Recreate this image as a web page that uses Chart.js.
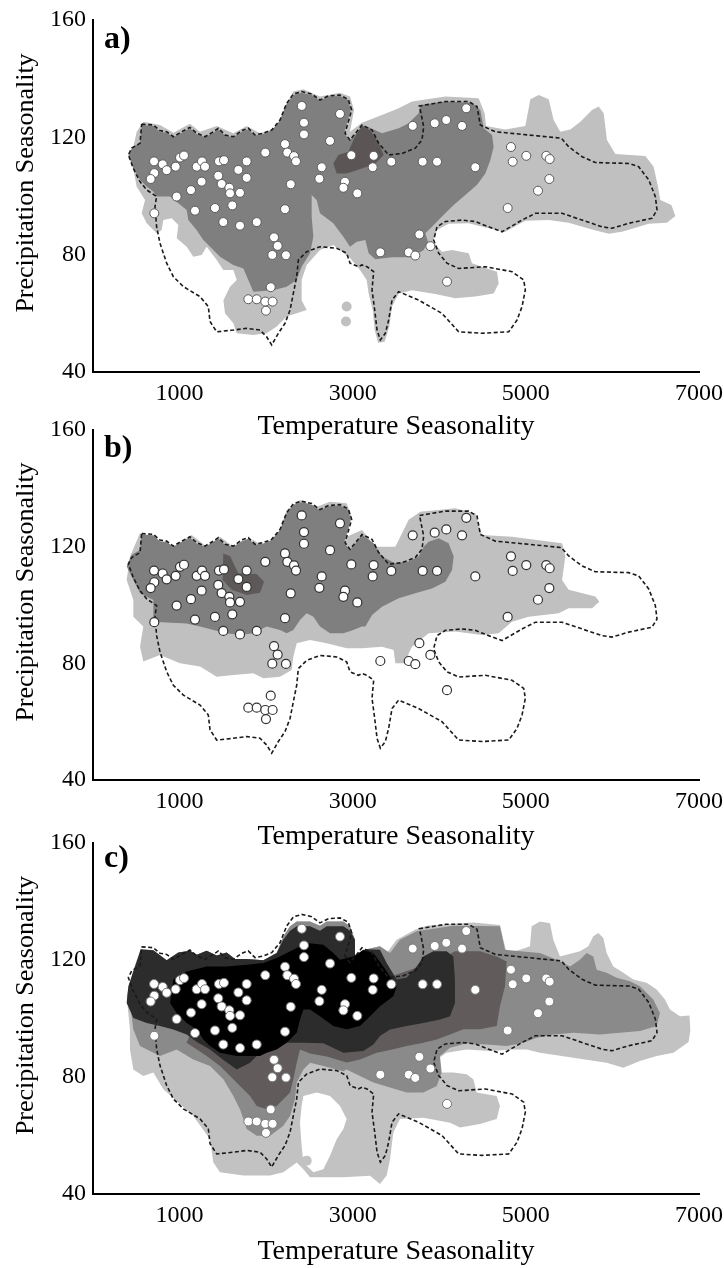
<!DOCTYPE html>
<html><head><meta charset="utf-8">
<script src="https://cdn.jsdelivr.net/npm/chart.js@4.4.1/dist/chart.umd.min.js"></script>
<style>
html,body{margin:0;padding:0;background:#fff;width:724px;height:1268px;overflow:hidden;}
.panel{position:absolute;left:0;width:724px;}
</style></head><body>
<div class="panel" style="top:0px;height:443px"><canvas id="ca"></canvas></div>
<div class="panel" style="top:410px;height:443px"><canvas id="cb"></canvas></div>
<div class="panel" style="top:822px;height:446px"><canvas id="cc"></canvas></div>
<script>
// ---- axis ticks / labels ----
const xTickValues = [1000, 3000, 5000, 7000];
const xTickLabels = ['1000', '3000', '5000', '7000'];
const yTickValues = [40, 80, 120, 160];
const yTickLabels = ['40', '80', '120', '160'];
const xTitle = 'Temperature Seasonality';
const yTitle = 'Precipitation Seasonality';
const panelLabels = ['a)', 'b)', 'c)'];

// ---- occurrence points (same in all panels) ----
const pointX = [2411,2437,2437,2853,2218,2738,705,805,851,955,1005,1051,708,666,708,966,1132,1198,1259,1294,1255,1455,1513,1447,1486,1575,1583,1698,1775,1679,1775,1609,1409,1178,1505,1698,1891,1990,2245,2322,2345,2284,2218,2642,2615,2091,2133,2071,2229,2053,1794,1891,1990,2075,1998,2984,2911,2892,3053,4312,3693,3947,4081,4263,3242,3231,3446,3808,3974,4416,4828,4848,5005,5236,5275,5271,5140,4790,3770,3897,3319,3647,3723,4089];
const pointY = [130.7,125,121,128,117.7,118.8,111.8,110.8,108.8,110,113.1,113.8,107.8,105.8,94.1,99.8,102,110,111.8,110,104.9,111.8,112.2,106.9,104.1,102.8,100.9,101.1,111.8,108.9,106.2,96.8,95.9,95,91.1,89.9,91.1,114.8,114.8,113.6,111.8,104,95.5,109.8,105.9,85.9,83,79.9,79.8,68.9,64.8,64.8,64,64,60.9,113.9,104.9,102.8,100.9,129.9,123.9,124.8,125.9,123.9,113.7,109.8,111.7,111.7,111.7,109.8,116.7,111.7,113.7,113.7,112.6,105.8,101.8,95.9,86.9,82.9,80.8,80.8,79.7,70.8];

// ---- dashed outline (same in all panels) ----
const outlineX = [562,697,774,851,928,1024,1120,1197,1294,1390,1448,1525,1621,1717,1794,1871,1968,2064,2160,2237,2314,2410,2526,2622,2718,2853,2949,2988,2949,2911,2968,3046,3107,3223,3300,3415,3569,3723,3800,3820,3781,3770,4070,4340,4436,4474,4648,5033,5410,5495,5649,5803,6188,6303,6419,6496,6515,6457,6188,5995,5880,5649,5418,5110,4956,4725,4570,4416,4262,4070,3974,3935,3993,4089,4224,4532,4840,4975,4994,4956,4898,4802,4493,4224,4031,3762,3531,3454,3415,3377,3319,3281,3254,3223,3242,3165,3107,3065,2969,2930,2815,2622,2468,2372,2353,2314,2276,2218,2141,2064,2006,1929,1775,1621,1429,1352,1332,1236,1044,928,851,774,735,716,735,620,543,466,408,447,543,562];
const outlineY = [124.5,124.2,122.3,121.9,120.2,121.9,123.4,121.4,120.2,121.9,123.1,120.8,120.2,122.3,123.1,120.8,121.4,122.5,125.9,131.6,134.7,135.6,134.8,132.7,134.1,134.4,132.9,129.3,125.3,121.4,119.1,121.9,124.2,122.5,118,114,114.5,116.3,119.1,123.6,129.3,130.7,132.2,132.2,130.5,124.2,121.9,120.8,119.7,116.8,113.4,111.4,111.1,110,105.5,99.8,95.2,92.4,90.7,89,89.5,91.8,94.1,94.1,91.8,87.8,89.5,91.3,91.8,91.3,89.5,85,80.5,77.1,75.3,75.9,74.2,71.4,68,62.3,57.7,53.7,53.2,53.7,60,64.5,67.4,64.5,57.7,53.2,50.9,54.3,61.1,68,74.2,75.9,76.5,75.9,77.1,80.5,82.2,82.7,81,78.2,72.5,66.8,61.1,56.6,53.2,49.2,52,54.3,54.9,54.3,53.7,57.2,62.3,65.7,69.1,72.5,77.1,83.9,89.5,96.4,99.8,102.1,104.9,109.4,114,116.3,118,124.5];

// ---- panel a regions ----
const lightAX = [466,505,582,774,928,1120,1236,1429,1621,1775,1929,2122,2218,2314,2430,2622,2853,2969,3015,2969,3107,3338,3531,3685,4070,4455,4524,4540,4763,4994,5052,5148,5264,5321,5398,5514,5629,5764,5841,5899,5937,6034,6380,6476,6526,6553,6681,6727,6630,6419,6111,5957,5764,5495,5264,4994,4763,4532,4340,4108,3974,3924,4031,4147,4340,4378,4493,4667,4686,4628,4416,4185,3954,3685,3531,3454,3423,3369,3292,3254,3231,3184,3161,3084,2969,2776,2622,2468,2410,2410,2468,2353,2237,2122,2006,1852,1660,1621,1525,1506,1583,1660,1621,1506,1429,1313,1255,1159,1082,967,986,909,812,793,735,620,562,601,504,447];
const lightAY = [116.8,121.9,125.3,124.2,121.6,124.6,121.9,123.9,121.4,123.9,121.4,123.1,130.5,135.6,136.4,133.9,135.2,133.9,129.3,121.9,125,127.6,129.9,132.2,133.9,133.3,128.2,123.9,122.7,123.9,133,134.4,133,125.9,121.9,122.7,125.3,129.3,130.5,128.2,119.1,114.3,113.6,110,103.2,98.6,96.9,93.2,90.9,90.5,87.8,87.1,88.6,90.9,91.8,91.6,87.8,89.3,90.7,90.5,88.4,84.4,81,81.6,80.5,77.1,75.9,74.2,70.2,66.8,65.7,65.1,66.6,67.9,66.8,62.3,55.5,50.3,50,54.3,61.1,66.8,71.4,74.8,78.9,83.3,81.6,76.5,71.4,64.5,61.1,60,58.9,55.5,53.2,52.6,53.2,56.6,60,64.5,69.1,71.4,74.8,74.8,78.2,82.7,79.9,79.3,82.7,85.6,90.1,92.4,91.8,88.4,87.3,90.7,94.1,98.6,103.2,112.3];
const midTopX = [562,697,774,851,928,1024,1120,1197,1294,1390,1448,1525,1621,1717,1794,1871,1968,2064,2160,2237,2314,2410,2526,2622,2718,2853,2949,2977,2938,2899,2968,3046,3107];
const midTopY = [124.2,123.9,121.9,121.6,120,121.6,123.1,121.1,120,121.6,122.7,120.6,120,121.9,122.7,120.6,121.1,122.3,125.7,131.4,134.3,135.2,134.4,132.5,133.9,134.1,132.7,129.3,125.3,121.4,118.9,121.6,124.1];
const midRestAX = [3184,3338,3531,3646,3762,3781,4070,4378,4474,4513,4609,4628,4590,4532,4436,4301,4166,4031,3916,3839,3870,3820,3685,3454,3261,3184,3146,3046,2969,2892,2776,2622,2584,2526,2526,2545,2507,2410,2353,2237,2083,1852,1794,1737,1621,1467,1390,1274,1197,1101,1082,890,735,697,620,543,466,408,458,543];
const midRestAY = [123.4,121.4,123.1,124.8,128.2,131,132.2,131.8,129.3,123.1,120.8,116.8,112.3,107.7,103.8,100.3,96.9,93,89.5,87.3,84.4,81.6,79.1,79.1,78.4,80.5,85,84.4,82.7,86.1,90.7,94.1,98.6,100.3,93,86.1,80.5,75.9,71.4,69.1,67.9,67.4,71.4,75.3,76.5,79.3,81.6,85,88.4,91.8,95.2,99.8,99.8,101.5,103.2,105.5,109.4,114,116.8,118];
const darkAX = [2776,2834,2949,3026,3107,3204,3300,3358,3261,3107,2930,2815];
const darkAY = [111.1,114,115.1,120.2,123.9,122.3,118,114,111.1,109.4,107.7,107.7];
const dotsAX = [2930,2922];
const dotsAY = [62.3,57.2];

// ---- panel b regions ----
const lightBX = [543,736,928,1140,1313,1467,1621,1852,2006,2122,2237,2391,2584,2738,2930,2988,2930,3107,3261,3492,3531,3646,3781,4185,4416,4493,4840,5418,5456,5418,5494,5803,5849,5764,5494,5379,5033,4840,4686,4493,4185,3877,3685,3646,3627,3492,3473,3338,3107,2930,2699,2507,2353,2314,2295,2160,1968,1852,1621,1429,1236,1005,774,581,543,581,466,466,389,427];
const lightBY = [124.6,122.3,120,124,120,123.4,120,122.3,119.4,122.3,132.6,136,133.7,135.4,134.9,130.3,123.4,125.7,120,120,122.3,129.2,132,133.2,131.4,124,123.4,121.2,116.6,108.6,105.2,102.9,101.1,98.9,98.9,97.2,96,94.3,90.3,89.7,90.9,90.3,85.7,83.4,80,80,84.6,85.7,85.2,85.2,86.9,88,86.9,82.3,77.7,75.4,74.9,76.6,76,75.4,78.9,80,82.9,80.6,85.7,92.6,96,101.7,108.6,116.6];
const midRestBX = [3242,3338,3492,3646,3762,3820,3877,3993,4108,4166,4147,4070,3916,3723,3531,3338,3223,3146,3107,3007,2892,2738,2622,2546,2468,2391,2314,2237,2160,2006,1852,1698,1544,1390,1236,1082,851,697,697,543,466,389,447,543];
const midRestBY = [121.2,116.6,114.3,114.9,116.6,120,121.7,122.9,121.2,116.6,112,108,105.7,104,102.3,99.4,96.6,92.6,92.6,91.4,90.3,90.3,92.6,96,97.2,94.9,91.4,90.3,91.4,92.6,90.3,89.7,90.3,91.4,92.6,93.7,94,94.3,101.7,104,108.6,113.2,117.2,118.9];
const darkBX = [1505,1583,1679,1891,1975,1929,1775,1602,1498];
const darkBY = [117.7,116.8,110.9,110.6,108,104.2,103.4,105.2,108.6];

// ---- panel c regions ----
const lightCX = [551,697,851,986,1120,1198,1313,1429,1544,1640,1775,1968,2122,2199,2276,2353,2507,2622,2699,2892,2969,3026,3026,3161,3315,3392,3508,3719,3854,4162,4393,4701,4740,4778,4932,5048,5067,5163,5279,5317,5394,5548,5625,5722,5779,5837,5895,5933,6010,6126,6241,6395,6511,6607,6665,6780,6890,6900,6880,6704,6511,6318,6126,5933,5548,5163,5009,4855,4586,4316,4085,3970,4008,4162,4316,4393,4432,4662,4701,4663,4470,4239,4124,3816,3546,3469,3431,3392,3315,3200,2892,2507,2430,2353,2199,2045,1737,1467,1390,1352,1159,813,697,581,466,427,427,389,466];
const lightCY = [123.7,123.3,119.9,122.6,123.2,121.8,123.2,121.5,122.6,120.3,120.3,119.9,122.4,128.1,131.5,133.2,133.2,131.7,133.2,133.2,131.5,126.9,121.2,123.7,124.7,122.4,126.9,130.3,131.7,132.4,132.8,132,126.9,122.4,123.5,124.7,131.5,133.2,132.6,126.9,121.2,122.4,123,124.7,128.1,129.2,127.5,122.4,117.8,115.6,113.3,112.2,109.9,106.5,103.1,100.8,101,96,92,88.3,87.2,85.5,83.2,84.9,86.6,88.3,89.4,89.4,88.9,89.4,88.3,86,81.5,81.5,80.9,79.2,74.7,73.5,70.1,65.6,63.9,62.7,64.4,66.1,65.6,61,51.9,46.3,43.4,46.2,45.7,45.7,48.5,50.8,47.4,46.3,46.3,47.4,50.8,58.7,66.7,75.8,81.5,80.3,82.6,89.4,96.2,107.6,116.7];
const holeCX = [2430,2584,2738,2853,2930,2892,2815,2738,2661,2545,2430,2410,2391,2410];
const holeCY = [73.5,74.7,73.5,70.1,65.6,62.2,58.7,53.1,48.5,47.4,50.8,56.5,64.4,70.1];
const midCX = [427,543,697,851,986,1120,1198,1313,1429,1544,1640,1775,1968,2122,2199,2276,2353,2507,2622,2699,2892,2969,3026,3026,3161,3315,3431,3546,3739,4162,4701,4759,4932,5163,5356,5510,5625,5702,5779,5818,5933,6049,6203,6318,6472,6549,6511,6318,6087,5856,5548,5317,5125,4971,4778,4547,4316,4124,4008,4027,3970,3816,3623,3431,3238,3084,2930,2892,2661,2507,2430,2353,2333,2276,2199,2045,1891,1775,1737,1698,1621,1506,1352,1159,967,774,543,466];
const midCY = [105.3,122.4,123.3,119.9,122.6,123.2,121.8,123.2,121.5,122.6,120.3,120.3,119.9,122.4,128.1,131.5,133.2,133.2,131.7,133.2,133.2,131.5,126.9,121.2,123.7,124.7,122.4,126.9,129.8,131.7,131.5,123.5,123,122.4,120.1,117.8,120.1,122.4,121.2,116.7,115.6,113.9,112.7,111,106.5,101.9,97.4,95.7,95.1,94.5,95.1,94.5,93.4,91.7,90.6,91.1,91.5,90,87.2,81.5,76.9,74.7,74.7,76.4,78.1,80.3,82.6,82,83.8,84.9,82.6,78.1,72.4,66.7,63.3,59.9,59.9,62.2,65.6,69,73.5,79.2,83.8,86,89.4,87.2,90.6,96.2];
const brownCX = [4181,4470,4663,4778,4759,4701,4663,4470,4278,4124,3970,3816,3623,3431,3277,3084,2930,2700,2507,2391,2353,2314,2276,2199,2122,2006,1891,1814,1698,1583,1467,1313,1082,1200,2000,3000,3500,4000];
const brownCY = [123,123,121.2,119.5,111,104.2,97.4,96.3,96.3,94.5,92.8,91.7,90.6,89.2,88.3,86,85,87,88,89.4,84.9,79.2,74.7,72.4,70.1,69,70.1,73.5,76.9,80.3,83.8,87.2,91.7,100,105,110,115,120];
const darkCX = [551,697,851,986,1120,1198,1313,1429,1544,1640,1775,1968,2122,2199,2276,2353,2507,2622,2699,2892,2969,3026,3026,3161,3315,3392,3508,3623,3739,3816,3931,4085,4162,4181,4181,4124,4008,3816,3623,3431,3315,3238,3123,2892,2661,2430,2199,2006,1814,1660,1500,1352,1200,1082,928,774,620,466,389,408,485];
const darkCY = [123.7,123.3,119.9,122.6,123.2,121.8,123.2,121.5,122.6,120.3,120.3,119.9,122.4,127,130,131.5,131.5,130,131.5,131.5,130,126.9,121.2,123.7,123.5,119,113.3,113.9,117.8,121.2,123,123,121.2,113.3,105.3,100.8,99.7,98.5,97.4,96.2,94,91.1,88.9,88.3,91.5,91.7,91.7,90.6,84.9,82.6,86,89.4,92,94.5,96.2,97.4,98.5,100.2,105.3,111,117.8];
const blackCX = [928,1082,1313,1544,1775,1968,2122,2314,2468,2661,2776,2853,3007,3123,3238,3354,3431,3508,3469,3315,3200,3084,2930,2776,2622,2507,2430,2391,2353,2237,2122,2006,1929,1814,1660,1467,1352,1275,1198,1082,967,890];
const blackCY = [113.3,116.1,117.8,117.8,118.4,119,120.7,123.5,125.8,125.2,122.4,120.1,121.2,123.5,122.4,117.8,114.4,111,107.6,104.2,100.8,97.4,96.3,97.4,100.8,103.1,103.1,99.7,95.1,91.7,89.4,88.3,87.2,87.2,87.2,88.3,90.6,92.8,96.2,98.5,101.9,105.3];
const dotsCX = [2468];
const dotsCY = [51.4];

// ---- helpers ----
const zip = (xs, ys) => xs.map((x, i) => ({x: x, y: ys[i]}));
const FONT = '"Liberation Serif", "Times New Roman", serif';

function polygon(xs, ys, color) {
  return {data: zip(xs, ys), showLine: true, fill: 'shape', backgroundColor: color,
          borderColor: color, borderWidth: 0, pointRadius: 0, pointHoverRadius: 0, tension: 0};
}
function dots(xs, ys, color) {
  return {data: zip(xs, ys), showLine: false, pointRadius: 5, pointBackgroundColor: color,
          pointBorderWidth: 0, pointBorderColor: color, pointHoverRadius: 0};
}
function pointsDs(border, bw) {
  return {data: zip(pointX, pointY), showLine: false, pointRadius: 4.5, pointBackgroundColor: '#ffffff',
          pointBorderColor: border, pointBorderWidth: bw, pointHoverRadius: 0};
}
function outlineDs() {
  return {data: zip(outlineX, outlineY), showLine: true, fill: false, borderColor: '#1a1a1a',
          borderWidth: 1.6, borderDash: [4, 2.5], pointRadius: 0, pointHoverRadius: 0, tension: 0};
}

const textPlugin = {
  id: 'panelText',
  afterDraw(chart, args, o) {
    const ctx = chart.ctx;
    const ca = chart.chartArea;
    ctx.save();
    ctx.fillStyle = '#000';
    ctx.textBaseline = 'middle';
    ctx.textAlign = 'left';
    ctx.font = 'bold 32px ' + FONT;
    ctx.fillText(o.label, 104, ca.top + o.labelDy);
    ctx.translate(26, (ca.top + ca.bottom) / 2 - 13);
    ctx.rotate(-Math.PI / 2);
    ctx.textAlign = 'center';
    ctx.font = '26px ' + FONT;
    ctx.fillText(yTitle, 0, 0);
    ctx.restore();
  }
};

function makePanel(id, datasets, padTop, xAxisH, label, labelDy) {
  new Chart(document.getElementById(id), {
    type: 'line',
    data: {datasets: datasets},
    plugins: [textPlugin],
    options: {
      responsive: true, maintainAspectRatio: false, animation: false, devicePixelRatio: 1, events: [],
      layout: {padding: {top: padTop, right: 25, left: 0, bottom: 0}},
      plugins: {legend: {display: false}, tooltip: {enabled: false}, panelText: {label: label, labelDy: labelDy}},
      scales: {
        x: {
          type: 'linear', min: 0, max: 7000,
          afterBuildTicks: s => { s.ticks = xTickValues.map(v => ({value: v})); },
          afterFit: s => { s.height = xAxisH; s.paddingLeft = 0; s.paddingRight = 0; },
          grid: {display: false, drawTicks: false},
          border: {display: true, color: '#000', width: 2},
          ticks: {color: '#000', font: {family: FONT, size: 24}, padding: 7, maxRotation: 0, autoSkip: false,
                  callback: v => xTickLabels[xTickValues.indexOf(v)]},
          title: {display: true, text: xTitle, color: '#000', font: {family: FONT, size: 28, lineHeight: 1.2},
                  padding: {top: 0, bottom: 0}}
        },
        y: {
          type: 'linear', min: 40, max: 160,
          afterBuildTicks: s => { s.ticks = yTickValues.map(v => ({value: v})); },
          afterFit: s => { s.width = 93; s.paddingTop = 0; s.paddingBottom = 0; },
          grid: {display: false, drawTicks: false},
          border: {display: true, color: '#000', width: 2},
          ticks: {color: '#000', font: {family: FONT, size: 24}, padding: 7,
                  callback: v => yTickLabels[yTickValues.indexOf(v)]}
        }
      }
    }
  });
}

const LIGHT = '#c0c0c0', MID = '#7f7f7f';

makePanel('ca', [
  pointsDs('#5a5a5a', 1),
  outlineDs(),
  polygon(darkAX, darkAY, '#5b5555'),
  polygon(midTopX.concat(midRestAX), midTopY.concat(midRestAY), MID),
  dots(dotsAX, dotsAY, LIGHT),
  polygon(lightAX, lightAY, LIGHT)
], 20, 71, panelLabels[0], 20);

makePanel('cb', [
  pointsDs('#333333', 1.2),
  outlineDs(),
  polygon(darkBX, darkBY, '#5e5959'),
  polygon(midTopX.concat(midRestBX), midTopY.concat(midRestBY), MID),
  polygon(lightBX, lightBY, LIGHT)
], 20, 73, panelLabels[1], 19);

makePanel('cc', [
  pointsDs('#777777', 1),
  outlineDs(),
  polygon(blackCX, blackCY, '#000000'),
  polygon(darkCX, darkCY, '#2c2c2c'),
  polygon(brownCX, brownCY, '#615b5b'),
  polygon(midCX, midCY, '#8a8a8a'),
  dots(dotsCX, dotsCY, '#c2c2c2'),
  polygon(holeCX, holeCY, '#ffffff'),
  polygon(lightCX, lightCY, '#c2c2c2')
], 21, 74, panelLabels[2], 16);
</script>
</body></html>
